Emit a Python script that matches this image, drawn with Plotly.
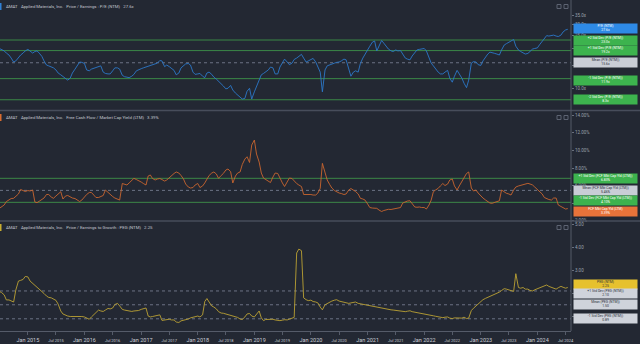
import numpy as np
import pandas as pd
import plotly.graph_objects as go

# ---------------- data (semi-monthly readings, 1st and 15th) ----------------
dates = pd.date_range("2014-07-01", "2024-07-15", freq="SMS")

pe_ntm = [19.9, 19.6, 19.1, 18.4, 17.8, 16.9, 15.8, 16.1, 17.2, 17.8,
          18.4, 19.1, 19.6, 19.1, 18.4, 18.9, 19.1, 18.4, 17.4, 16.1,
          15.0, 14.8, 14.5, 14.3, 13.8, 13.1, 12.7, 12.4, 12.0, 11.6,
          12.0, 13.1, 14.0, 14.8, 15.8, 15.7, 15.4, 13.8, 13.6, 14.0,
          14.2, 14.5, 14.8, 14.8, 13.3, 13.0, 12.9, 12.9, 13.6, 14.3,
          14.3, 14.0, 12.6, 12.3, 12.2, 12.1, 12.4, 12.8, 13.6, 13.9,
          14.1, 14.3, 14.5, 14.6, 14.9, 15.1, 15.3, 15.5, 16.2, 16.1,
          14.6, 15.0, 14.6, 14.1, 13.7, 12.7, 13.1, 14.3, 14.8, 15.3,
          15.4, 15.0, 13.3, 12.8, 12.9, 13.0, 12.4, 12.1, 13.1, 13.3,
          12.8, 12.2, 11.8, 11.4, 11.0, 10.5, 10.0, 10.1, 10.6, 9.8,
          9.3, 9.0, 8.8, 8.4, 8.5, 9.6, 10.1, 8.4, 9.5, 10.5,
          11.8, 12.7, 13.0, 13.3, 13.8, 14.5, 14.3, 12.9, 12.9, 14.5,
          15.8, 16.6, 15.8, 15.1, 15.5, 16.5, 16.9, 17.5, 18.0, 16.9,
          15.8, 16.1, 16.5, 16.8, 15.8, 14.3, 13.3, 9.5, 13.8, 14.8,
          15.1, 15.3, 15.5, 15.7, 15.8, 16.1, 16.6, 16.4, 14.0, 12.4,
          13.3, 13.6, 13.3, 15.4, 16.9, 18.1, 19.4, 20.7, 22.2, 22.6,
          19.1, 20.7, 22.8, 21.8, 20.7, 19.7, 19.1, 18.9, 19.4, 19.1,
          19.2, 18.1, 16.9, 16.6, 16.4, 17.5, 18.7, 19.4, 19.6, 19.7,
          19.9, 19.1, 16.9, 15.5, 14.8, 14.0, 13.3, 12.9, 12.9, 13.3,
          13.7, 12.0, 11.2, 12.4, 13.7, 12.9, 12.0, 11.0, 10.2, 11.6,
          15.5, 15.9, 15.8, 15.1, 14.9, 16.1, 17.4, 18.1, 18.7, 18.6,
          18.3, 18.1, 17.8, 19.4, 21.1, 21.6, 22.2, 22.6, 23.2, 20.7,
          19.4, 18.9, 18.6, 18.1, 18.3, 19.1, 19.7, 19.9, 20.1, 21.2,
          22.4, 23.8, 24.8, 24.6, 25.0, 25.0, 24.6, 24.4, 25.0, 26.4,
          27.3, 27.6]

fcf_yield = [3.42, 3.57, 3.80, 4.19, 4.42, 4.53, 4.56, 4.76, 5.05, 5.56,
             5.39, 5.33, 5.44, 5.39, 5.50, 4.14, 4.06, 4.25, 4.42, 4.59,
             4.99, 4.99, 4.70, 4.56, 4.82, 5.05, 5.31, 4.48, 4.82, 4.88,
             4.70, 4.59, 4.53, 4.36, 4.19, 4.36, 4.76, 4.99, 5.22, 5.22,
             4.93, 4.65, 4.65, 4.76, 4.88, 5.50, 5.22, 4.93, 4.76, 4.59,
             4.42, 4.36, 6.24, 6.13, 6.07, 6.30, 6.58, 6.83, 6.69, 6.58,
             6.41, 6.24, 6.07, 7.09, 7.21, 6.81, 6.64, 6.75, 6.81, 6.69,
             6.52, 6.64, 6.92, 7.15, 7.38, 7.55, 7.43, 7.15, 6.75, 6.18,
             5.84, 5.73, 5.78, 6.07, 6.24, 5.78, 5.96, 6.30, 6.75, 7.15,
             7.43, 7.55, 7.32, 6.83, 7.15, 7.38, 7.77, 7.89, 7.58, 6.30,
             7.09, 7.43, 7.55, 8.40, 9.02, 9.28, 8.63, 10.61, 11.18, 9.59,
             8.68, 7.43, 6.86, 6.69, 6.47, 6.35, 6.98, 7.43, 7.38, 6.81,
             6.30, 5.90, 6.41, 6.86, 6.81, 6.52, 6.24, 6.07, 5.90, 4.99,
             4.99, 5.05, 4.99, 4.93, 4.93, 5.16, 5.69, 8.53, 7.55, 6.64,
             6.13, 5.73, 5.44, 5.27, 5.16, 5.10, 4.99, 5.05, 5.50, 5.67,
             5.50, 5.33, 5.05, 4.56, 4.48, 4.36, 3.91, 3.51, 3.45, 3.40,
             3.42, 3.23, 3.06, 3.17, 3.29, 3.31, 3.29, 3.34, 3.40, 3.45,
             3.51, 4.02, 4.19, 4.25, 4.28, 3.97, 3.57, 3.54, 3.57, 3.51,
             3.51, 3.34, 3.80, 4.36, 5.31, 5.50, 5.69, 5.96, 6.24, 6.01,
             6.18, 6.64, 6.75, 5.96, 5.50, 5.96, 6.44, 6.92, 7.38, 7.55,
             5.73, 5.39, 5.50, 5.16, 4.82, 4.59, 4.36, 4.19, 4.02, 3.99,
             4.08, 4.19, 4.28, 5.50, 5.27, 5.13, 5.05, 4.93, 5.50, 5.84,
             5.96, 6.01, 6.07, 6.18, 6.26, 6.18, 6.07, 5.84, 5.56, 5.33,
             5.05, 4.65, 4.48, 4.42, 4.36, 4.59, 4.59, 3.80, 3.63, 3.45,
             3.34, 3.39]

peg_ntm = [2.08, 2.03, 1.93, 1.71, 1.71, 1.67, 1.62, 2.14, 2.53, 2.56,
           2.60, 2.73, 2.71, 2.53, 2.43, 2.36, 2.29, 2.19, 2.08, 1.99,
           1.88, 1.82, 1.80, 1.75, 1.69, 1.53, 1.23, 1.10, 1.03, 1.01,
           0.99, 0.99, 0.98, 1.01, 0.99, 0.99, 0.97, 0.93, 0.87, 0.97,
           1.06, 1.17, 1.27, 1.23, 1.21, 1.27, 1.34, 1.32, 1.36, 1.51,
           1.56, 1.45, 1.30, 1.27, 1.25, 1.23, 1.21, 1.23, 1.23, 1.25,
           1.30, 1.34, 1.36, 1.01, 0.97, 0.99, 1.01, 1.03, 1.06, 0.82,
           0.84, 0.86, 0.87, 0.84, 0.84, 0.75, 0.73, 0.80, 0.82, 0.86,
           0.88, 0.93, 0.96, 0.99, 1.01, 0.97, 1.06, 1.64, 1.77, 1.62,
           1.45, 1.40, 1.32, 1.20, 1.14, 1.13, 1.10, 1.08, 1.06, 1.01,
           0.99, 0.95, 0.88, 0.86, 0.97, 1.10, 1.12, 1.01, 0.97, 1.10,
           1.23, 0.93, 0.81, 0.86, 0.86, 0.88, 0.87, 0.84, 0.81, 0.81,
           0.83, 0.85, 0.84, 0.88, 0.92, 0.95, 3.75, 3.92, 3.85, 1.80,
           1.72, 1.68, 1.70, 1.64, 1.62, 1.58, 1.40, 1.28, 1.50, 1.56,
           1.62, 1.66, 1.70, 1.72, 1.66, 1.64, 1.62, 1.60, 1.56, 1.58,
           1.60, 1.62, 1.56, 1.54, 1.55, 1.52, 1.50, 1.47, 1.45, 1.42,
           1.40, 1.38, 1.35, 1.33, 1.32, 1.30, 1.28, 1.27, 1.25, 1.24,
           1.22, 1.21, 1.20, 1.22, 1.24, 1.20, 1.18, 1.16, 1.14, 1.13,
           1.12, 1.10, 1.08, 1.05, 1.02, 1.00, 0.98, 0.96, 0.94, 0.96,
           0.97, 0.92, 0.90, 0.93, 0.92, 0.90, 0.92, 0.96, 0.90, 0.92,
           1.25, 1.35, 1.45, 1.55, 1.65, 1.72, 1.78, 1.82, 1.88, 1.92,
           1.98, 2.02, 2.05, 2.12, 2.20, 2.18, 2.15, 2.10, 2.08, 2.85,
           2.25, 2.22, 2.25, 2.18, 2.18, 2.12, 2.10, 2.15, 2.20, 2.24,
           2.28, 2.32, 2.36, 2.30, 2.26, 2.20, 2.18, 2.24, 2.30, 2.26,
           2.22, 2.25]

pe_band_labels = ["+2 Std Dev (P/E (NTM))", "+1 Std Dev (P/E (NTM))", "Mean (P/E (NTM))",
                  "-1 Std Dev (P/E (NTM))", "-2 Std Dev (P/E (NTM))"]
pe_band_values = [23.0, 19.2, 15.6, 11.9, 8.3]

fcf_band_labels = ["+1 Std Dev (FCF Mkt Cap Yld (LTM))", "Mean (FCF Mkt Cap Yld (LTM))",
                   "-1 Std Dev (FCF Mkt Cap Yld (LTM))"]
fcf_band_values = [6.83, 5.46, 4.10]

peg_band_labels = ["+1 Std Dev (PEG (NTM))", "Mean (PEG (NTM))", "-1 Std Dev (PEG (NTM))"]
peg_band_values = [2.10, 1.50, 0.89]

pe_ticks = [10, 15, 20, 25, 30, 35]
fcf_ticks = [2, 4, 6, 8, 10, 12, 14]
peg_ticks = [1, 2, 3, 4, 5]

x_tick_dates = pd.date_range("2015-01-01", "2024-07-01", freq="6MS")

# ---------------- layout helpers ----------------
W, H = 640, 344
MR, MB = 69, 13
PW, PH = W - MR, H - MB


def fx(xp):
    return xp / PW


def fy(yp):
    return 1 - yp / PH


BG = "#232833"
SEP = "#474d5b"
GREEN = "#3b8747"
MEANC = "#6c7285"
x_span = [pd.Timestamp("2014-07-05"), pd.Timestamp("2024-08-05")]

fig = go.Figure()


def band(y, yaxis, color, dash):
    fig.add_trace(go.Scatter(x=x_span, y=[y, y], mode="lines", yaxis=yaxis, xaxis="x",
                             line=dict(color=color, width=1, dash=dash),
                             hoverinfo="skip", showlegend=False))


for lab, v in zip(pe_band_labels, pe_band_values):
    band(v, "y", MEANC if lab.startswith("Mean") else GREEN, "dot" if lab.startswith("Mean") else "solid")
for lab, v in zip(fcf_band_labels, fcf_band_values):
    band(v, "y2", MEANC if lab.startswith("Mean") else GREEN, "dot" if lab.startswith("Mean") else "solid")
for lab, v in zip(peg_band_labels, peg_band_values):
    band(v, "y3", MEANC, "dot")


def series(vals, yaxis, color):
    n = min(len(vals), len(dates))
    fig.add_trace(go.Scatter(x=dates[:n], y=vals[:n], mode="lines", yaxis=yaxis, xaxis="x",
                             line=dict(color=color, width=0.9), showlegend=False))


series(pe_ntm, "y", "#2b78c9")
series(fcf_yield, "y2", "#c9652f")
series(peg_ntm, "y3", "#bba233")

yax_common = dict(side="right", anchor="x", showgrid=False, zeroline=False, showline=False,
                  ticks="outside", ticklen=2, tickcolor="#6a707d",
                  tickfont=dict(size=4.5, color="#9aa0ab", family="Roboto"))

ticktext = []
for d in x_tick_dates:
    if d.month == 1:
        ticktext.append(d.strftime("Jan %Y"))
    else:
        ticktext.append('<span style="font-size:4px">' + d.strftime("Jul %Y") + "</span>")

fig.update_layout(
    width=W, height=H, paper_bgcolor=BG, plot_bgcolor=BG,
    margin=dict(l=0, r=MR, t=0, b=MB),
    showlegend=False,
    xaxis=dict(type="date", range=x_span, domain=[0, 1], anchor="y3", showgrid=False,
               zeroline=False, showline=True, linecolor="#555b69", linewidth=1,
               ticks="outside", ticklen=3, tickcolor="#555b69",
               tickvals=x_tick_dates, ticktext=ticktext,
               tickfont=dict(size=5.5, color="#c9cdd5", family="Roboto")),
    yaxis=dict(domain=[fy(110), 1], type="log",
               range=[np.log10(6.97), np.log10(45.5)],
               tickvals=pe_ticks, ticktext=[f"{t:.1f}x" for t in pe_ticks], **yax_common),
    yaxis2=dict(domain=[fy(221), fy(111)], range=[1.98, 14.48],
                tickvals=fcf_ticks, ticktext=[f"{t:.2f}%" for t in fcf_ticks], **yax_common),
    yaxis3=dict(domain=[0, fy(221)], range=[0.36, 5.14],
                tickvals=peg_ticks, ticktext=[f"{t:.2f}" for t in peg_ticks], **yax_common),
)

shapes = []
for yp in (110.5, 221):
    shapes.append(dict(type="line", xref="paper", yref="paper", x0=0, x1=fx(W), y0=fy(yp), y1=fy(yp),
                       line=dict(color=SEP, width=1.5)))
shapes.append(dict(type="line", xref="paper", yref="paper", x0=1, x1=1, y0=0, y1=1,
                   line=dict(color="#555b69", width=1)))
for top, col in ((0, "#2f80d6"), (111, "#d96c30"), (221, "#c8ad30")):
    shapes.append(dict(type="rect", xref="paper", yref="paper", x0=0, x1=fx(1.5),
                       y0=fy(top + 10), y1=fy(top + 3), fillcolor=col, line=dict(width=0)))
    for ix in (557, 564):
        shapes.append(dict(type="rect", xref="paper", yref="paper", x0=fx(ix), x1=fx(ix + 4),
                           y0=fy(top + 8.5), y1=fy(top + 4.5), fillcolor="rgba(0,0,0,0)",
                           line=dict(color="#5d6372", width=1)))
fig.update_layout(shapes=shapes)

ann = []
titles = [
    (0, "Price / Earnings : P/E (NTM)", f"{pe_ntm[-1]:.1f}x"),
    (111, "Free Cash Flow / Market Cap Yield (LTM)", f"{fcf_yield[-1]:.2f}%"),
    (221, "Price / Earnings to Growth : PEG (NTM)", f"{peg_ntm[-1]:.2f}"),
]
for top, metric, val in titles:
    ann.append(dict(xref="paper", yref="paper", x=fx(4), y=fy(top + 6.5), xanchor="left", yanchor="middle",
                    showarrow=False,
                    text=f"AMAT&nbsp;&nbsp;&nbsp;Applied Materials, Inc.&nbsp;&nbsp;&nbsp;{metric}&nbsp;&nbsp;&nbsp;{val}",
                    font=dict(size=4.3, color="#c3c7cf", family="Roboto")))


def box(label, valtext, yref, y, bg, fg, yshift=0):
    ann.append(dict(xref="paper", x=fx(605), xanchor="center", yref=yref, y=y, yanchor="middle",
                    yshift=yshift, showarrow=False, text=f"{label}<br>{valtext}",
                    width=63, height=8.5, bgcolor=bg, borderpad=0,
                    font=dict(size=3.4, color=fg, family="Roboto")))


box("P/E (NTM)", f"{pe_ntm[-1]:.1f}x", "y", np.log10(pe_ntm[-1]), "#2e8ae6", "#ffffff", 0.5)
for lab, v in zip(pe_band_labels, pe_band_values):
    mean = lab.startswith("Mean")
    box(lab, f"{v:.1f}x", "y", np.log10(v), "#c9cdd6" if mean else "#3db34e",
        "#2b2f38" if mean else "#ffffff", -1.5 if lab.startswith("-1") else 0)

fcf_shift = [0, 0, 2]
for lab, v, s in zip(fcf_band_labels, fcf_band_values, fcf_shift):
    mean = lab.startswith("Mean")
    box(lab, f"{v:.2f}%", "y2", v, "#c9cdd6" if mean else "#3db34e",
        "#2b2f38" if mean else "#ffffff", s)
box("FCF Mkt Cap Yld (LTM)", f"{fcf_yield[-1]:.2f}%", "y2", fcf_yield[-1], "#e8733a", "#ffffff", -2.5)

box("PEG (NTM)", f"{peg_ntm[-1]:.2f}", "y3", peg_ntm[-1], "#e6c12e", "#2b2f38", 3)
peg_shift = [-3, 0, 0]
for lab, v, s in zip(peg_band_labels, peg_band_values, peg_shift):
    box(lab, f"{v:.2f}", "y3", v, "#cfd3db", "#2b2f38", s)

fig.update_layout(annotations=ann)
fig.write_html("out.html")
